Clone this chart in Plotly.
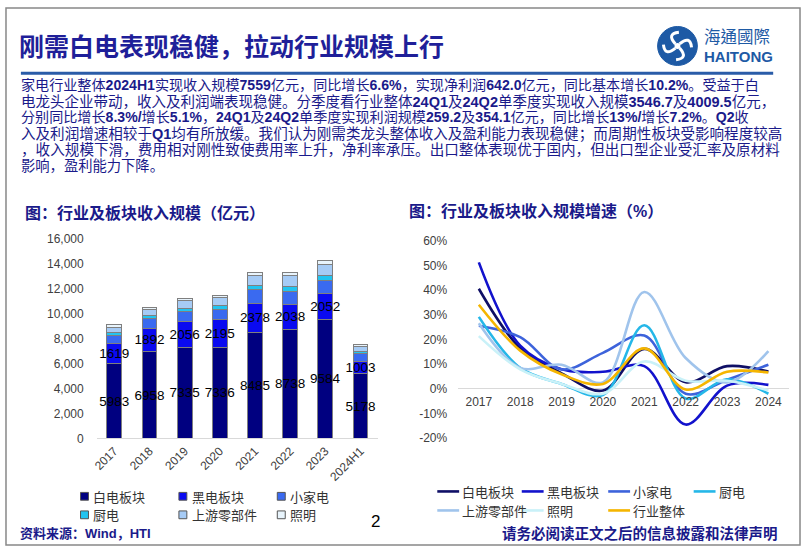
import math
import plotly.graph_objects as go

W, H = 802, 554

# ---------------- data ----------------
bar_years = ["2017", "2018", "2019", "2020", "2021", "2022", "2023", "2024H1"]
seg_names = ["白电板块", "黑电板块", "小家电", "厨电", "上游零部件", "照明"]
white_goods = [5983, 6958, 7335, 7336, 8485, 8738, 9584, 5178]
black_goods = [1619, 1892, 2056, 2195, 2378, 2038, 2052, 1003]
small_appl = [655, 788, 788, 840, 1080, 1060, 1090, 640]
kitchen = [263, 236, 290, 341, 370, 360, 370, 160]
upstream = [394, 470, 577, 577, 810, 860, 870, 420]
lighting = [205, 210, 180, 184, 236, 289, 315, 160]
bar_colors = ["#000080", "#0A0AF0", "#3A6AF0", "#22C4F0", "#A6CBF5", "#E8F4FC"]
y1_ticks = [0, 2000, 4000, 6000, 8000, 10000, 12000, 14000, 16000]

growth_years = ["2017", "2018", "2019", "2020", "2021", "2022", "2023", "2024"]
line_names = ["白电板块", "黑电板块", "小家电", "厨电", "上游零部件", "照明", "行业整体"]
g_white = [40.6, 16.5, 6.3, -0.7, 16.2, 2.7, 9.2, 7.0]
g_black = [51.3, 17.5, 7.9, 6.9, 9.2, -14.5, 1.3, 1.6]
g_small = [25.6, 21.0, 7.9, 14.6, 21.6, -2.0, 3.7, 9.8]
g_kitchen = [29.2, 8.5, 2.0, -2.5, 25.8, -3.9, 3.9, -2.0]
g_upstream = [26.6, 8.5, 9.8, 2.6, 39.3, 12.5, 2.6, 15.3]
g_lighting = [21.4, 7.9, 2.0, -2.0, 11.1, 3.3, 3.3, -0.7]
g_total = [34.1, 15.5, 5.9, 2.0, 16.4, -0.3, 6.9, 6.6]
line_colors = ["#0F0F66", "#1212CC", "#3D63DB", "#25B7E8", "#A0C4EC", "#C9F1F8", "#F5B500"]
y2_ticks = [-20, -10, 0, 10, 20, 30, 40, 50, 60]

title = "刚需白电表现稳健，拉动行业规模上行"
para_lines = [
    "家电行业整体<b>2024H1</b>实现收入规模<b>7559</b>亿元，同比增长<b>6.6%</b>，实现净利润<b>642.0</b>亿元，同比基本增长<b>10.2%</b>。受益于白",
    "电龙头企业带动，收入及利润端表现稳健。分季度看行业整体<b>24Q1</b>及<b>24Q2</b>单季度实现收入规模<b>3546.7</b>及<b>4009.5</b>亿元，",
    "分别同比增长<b>8.3%/</b>增长<b>5.1%</b>，<b>24Q1</b>及<b>24Q2</b>单季度实现利润规模<b>259.2</b>及<b>354.1</b>亿元，同比增长<b>13%/</b>增长<b>7.2%</b>。<b>Q2</b>收",
    "入及利润增速相较于<b>Q1</b>均有所放缓。我们认为刚需类龙头整体收入及盈利能力表现稳健；而周期性板块受影响程度较高",
    "，收入规模下滑，费用相对刚性致使费用率上升，净利率承压。出口整体表现优于国内，但出口型企业受汇率及原材料",
    "影响，盈利能力下降。",
]
left_title = "图：行业及板块收入规模（亿元）"
right_title = "图：行业及板块收入规模增速（%）"
source_text = "资料来源：Wind，HTI"
disclaimer = "请务必阅读正文之后的信息披露和法律声明"
page_no = "2"

# per-line font sizes approximate the justified text block of the original
para_sizes = [14.1, 14.5, 14.1, 14.55, 14.6, 14.3]

NAVY = "#1a1a8a"
LOGO = "#1E5AA5"
LAT = "Liberation Sans, Noto Sans CJK SC"
CJK = "Noto Sans CJK SC"


def px(x):
    return x / W


def py(y):
    return 1 - y / H


fig = go.Figure()

# ---------------- stacked bars ----------------
seg_values = [white_goods, black_goods, small_appl, kitchen, upstream, lighting]
for i, (name, vals) in enumerate(zip(seg_names, seg_values)):
    kw = {}
    if i < 2:
        kw = dict(text=vals, texttemplate="%{text}", textposition="inside",
                  insidetextanchor="middle", textangle=0, constraintext="none",
                  insidetextfont=dict(family=LAT, size=13.5, color="#000000"))
    fig.add_trace(go.Bar(
        x=bar_years, y=vals, name=name, width=0.42,
        marker=dict(color=bar_colors[i], line=dict(color="#7f7f7f", width=1)),
        xaxis="x", yaxis="y", showlegend=False, hoverinfo="skip", **kw))

# ---------------- growth lines ----------------
line_values = [g_white, g_black, g_small, g_kitchen, g_upstream, g_lighting, g_total]
for i, (name, vals) in enumerate(zip(line_names, line_values)):
    fig.add_trace(go.Scatter(
        x=growth_years, y=vals, name=name, mode="lines",
        line=dict(color=line_colors[i], width=2.6, shape="spline", smoothing=1.0),
        xaxis="x2", yaxis="y2", showlegend=False, hoverinfo="skip"))

# ---------------- axes ----------------
ax_font = dict(family=LAT, size=12, color="#404040")
y1_dom = [py(442.5), py(238.3)]
y2_dom = [py(442.3), py(240.0)]
zero_pos = y2_dom[0] + (0 - (-20)) / 80 * (y2_dom[1] - y2_dom[0])

fig.update_layout(
    width=W, height=H, margin=dict(l=0, r=0, t=0, b=0),
    paper_bgcolor="white", plot_bgcolor="white", barmode="stack",
    showlegend=False,
    xaxis=dict(domain=[px(92.3), px(375.4)], type="category", tickangle=-45,
               tickfont=ax_font, showline=True, linecolor="#d9d9d9", linewidth=1,
               ticks="", showgrid=False, anchor="y", range=[-0.5, 7.5]),
    yaxis=dict(domain=y1_dom, range=[0, 16000], tickvals=y1_ticks,
               ticktext=[f"{v:,}" for v in y1_ticks], tickfont=ax_font,
               showgrid=False, zeroline=False, showline=False, ticks="",
               ticklabelstandoff=12, anchor="x"),
    xaxis2=dict(domain=[px(456), px(789)], type="category", anchor="free",
                position=zero_pos, showline=False, ticks="", showgrid=False,
                tickfont=ax_font, range=[-0.5, 7.5], ticklabelstandoff=4),
    yaxis2=dict(domain=y2_dom, range=[-20, 60], tickvals=y2_ticks,
                ticktext=[f"{v}%" for v in y2_ticks], tickfont=ax_font,
                showgrid=False, zeroline=True, zerolinecolor="#d9d9d9",
                zerolinewidth=1, showline=False, ticks="", anchor="x2",
                ticklabelstandoff=10),
)

annotations = []
shapes = []


def text(x, y, s, size, color, family=CJK, xanchor="left"):
    annotations.append(dict(x=px(x), y=py(y), xref="paper", yref="paper",
                            text=s, showarrow=False, xanchor=xanchor,
                            yanchor="middle", font=dict(family=family, size=size, color=color)))


# title and underline
text(12, 39, f"<b>{title}</b>", 25, "#1f1f99")
shapes.append(dict(type="line", xref="paper", yref="paper", x0=px(16), x1=px(773),
                   y0=py(68), y1=py(68), line=dict(color="#2A5CA8", width=3)))

# paragraph
for i, ln in enumerate(para_lines):
    text(14, 80 + 16.6 * i, ln, para_sizes[i], NAVY, family=LAT)

# chart titles
text(18, 210, f"<b>{left_title}</b>", 16, NAVY)
text(405, 210, f"<b>{right_title}</b>", 16, NAVY, family=LAT)

# left legend (manual)
lx = [80, 179, 278]
ly = [502, 521]
for i, name in enumerate(seg_names):
    cx, cy = lx[i % 3], ly[i // 3]
    shapes.append(dict(type="rect", xref="paper", yref="paper",
                       x0=px(cx - 4), x1=px(cx + 4), y0=py(cy + 4), y1=py(cy - 4),
                       fillcolor=bar_colors[i], line=dict(color="#555555", width=1)))
    text(cx + 7, cy, name, 13, "#333333")

# right legend (manual)
rx = [435, 520, 607, 693, 435, 520, 607]
ry = [497, 497, 497, 497, 516.5, 516.5, 516.5]
for i, name in enumerate(line_names):
    shapes.append(dict(type="line", xref="paper", yref="paper",
                       x0=px(rx[i]), x1=px(rx[i] + 22), y0=py(ry[i]), y1=py(ry[i]),
                       line=dict(color=line_colors[i], width=2.6)))
    text(rx[i] + 23, ry[i], name, 13, "#333333")

# footer
text(13, 540, f"<b>{source_text}</b>", 13, NAVY, family=LAT)
text(373, 528, page_no, 17, "#000000", family=LAT, xanchor="center")
text(498, 539, f"<b>{disclaimer}</b>", 14.5, NAVY)

# logo
cx0, cy0, r = 676.7, 40, 20
shapes.append(dict(type="circle", xref="paper", yref="paper",
                   x0=px(cx0 - r), x1=px(cx0 + r), y0=py(cy0 + r), y1=py(cy0 - r),
                   fillcolor=LOGO, line=dict(color=LOGO, width=1)))
for k in range(4):
    a = k * math.pi / 2 + math.pi / 4
    d = (math.cos(a), math.sin(a))
    p = (-math.sin(a), math.cos(a))
    s = (cx0 + 3 * d[0], cy0 + 3 * d[1])
    q = (cx0 + 17 * d[0] + 1 * p[0], cy0 + 17 * d[1] + 1 * p[1])
    e = (cx0 + 9 * d[0] + 11 * p[0], cy0 + 9 * d[1] + 11 * p[1])
    path = (f"M {px(s[0])},{py(s[1])} Q {px(q[0])},{py(q[1])} {px(e[0])},{py(e[1])}")
    shapes.append(dict(type="path", xref="paper", yref="paper", path=path,
                       line=dict(color="white", width=3)))
shapes.append(dict(type="circle", xref="paper", yref="paper",
                   x0=px(cx0 - 3), x1=px(cx0 + 3), y0=py(cy0 + 3), y1=py(cy0 - 3),
                   fillcolor="white", line=dict(color="white", width=0)))
text(701.5, 30, "海通國際", 16.5, LOGO, family="Noto Sans CJK TC")
text(701.5, 51, "<b>HAITONG</b>", 15, LOGO, family="Liberation Sans")

# page frame
shapes.append(dict(type="rect", xref="paper", yref="paper", x0=px(1), x1=px(800),
                   y0=py(552), y1=py(1), line=dict(color="#888888", width=1.5),
                   fillcolor="rgba(0,0,0,0)"))

fig.update_layout(annotations=annotations, shapes=shapes)
fig.write_html("out.html", config={"displayModeBar": False, "staticPlot": True},
               post_script="document.body.style.margin='0px';document.body.style.padding='0px';")
